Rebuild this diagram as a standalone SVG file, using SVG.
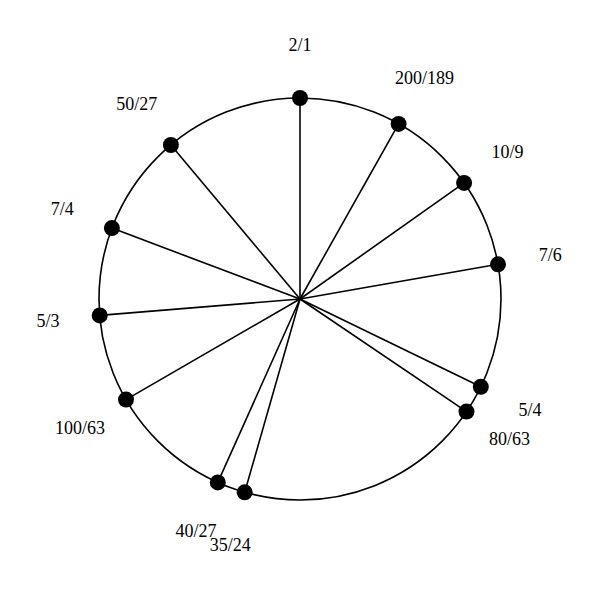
<svg xmlns="http://www.w3.org/2000/svg" width="600" height="600" viewBox="0 0 600 600">
<style>
.ring{fill:none;stroke:#000;stroke-width:1.6}
.spoke{stroke:#000;stroke-width:1.6}
.dot{fill:#000}
.lbl{font-family:"Liberation Serif","Times New Roman",serif;font-size:18px;text-anchor:middle;fill:#000}
</style>
<rect width="600" height="600" fill="#fff"/>
<circle class="ring" cx="300" cy="299" r="201"/>
<g id="connectors">
<line class="spoke" x1="300" y1="299" x2="300" y2="98"/>
<line class="spoke" x1="300" y1="299" x2="398.6" y2="123.9"/>
<line class="spoke" x1="300" y1="299" x2="464.1" y2="182.9"/>
<line class="spoke" x1="300" y1="299" x2="498.0" y2="264.3"/>
<line class="spoke" x1="300" y1="299" x2="480.8" y2="386.8"/>
<line class="spoke" x1="300" y1="299" x2="466.5" y2="411.6"/>
<line class="spoke" x1="300" y1="299" x2="244.7" y2="492.3"/>
<line class="spoke" x1="300" y1="299" x2="217.8" y2="482.4"/>
<line class="spoke" x1="300" y1="299" x2="126.0" y2="399.6"/>
<line class="spoke" x1="300" y1="299" x2="99.7" y2="315.4"/>
<line class="spoke" x1="300" y1="299" x2="111.9" y2="228.1"/>
<line class="spoke" x1="300" y1="299" x2="170.9" y2="145.0"/>
</g>
<g id="n-2-1"><circle class="dot" cx="300" cy="98" r="8"/><text class="lbl" x="300" y="51">2/1</text></g>
<g id="n-200-189"><circle class="dot" cx="398.6" cy="123.9" r="8"/><text class="lbl" x="424.6" y="83.5">200/189</text></g>
<g id="n-10-9"><circle class="dot" cx="464.1" cy="182.9" r="8"/><text class="lbl" x="507.4" y="158.3">10/9</text></g>
<g id="n-7-6"><circle class="dot" cx="498.0" cy="264.3" r="8"/><text class="lbl" x="550.2" y="261.2">7/6</text></g>
<g id="n-5-4"><circle class="dot" cx="480.8" cy="386.8" r="8"/><text class="lbl" x="530" y="415.9">5/4</text></g>
<g id="n-80-63"><circle class="dot" cx="466.5" cy="411.6" r="8"/><text class="lbl" x="509.4" y="445.3">80/63</text></g>
<g id="n-35-24"><circle class="dot" cx="244.7" cy="492.3" r="8"/><text class="lbl" x="230.2" y="551.2">35/24</text></g>
<g id="n-40-27"><circle class="dot" cx="217.8" cy="482.4" r="8"/><text class="lbl" x="196.1" y="536.8">40/27</text></g>
<g id="n-100-63"><circle class="dot" cx="126.0" cy="399.6" r="8"/><text class="lbl" x="80.1" y="434.1">100/63</text></g>
<g id="n-5-3"><circle class="dot" cx="99.7" cy="315.4" r="8"/><text class="lbl" x="47.9" y="326.8">5/3</text></g>
<g id="n-7-4"><circle class="dot" cx="111.9" cy="228.1" r="8"/><text class="lbl" x="62.3" y="215.4">7/4</text></g>
<g id="n-50-27"><circle class="dot" cx="170.9" cy="145.0" r="8"/><text class="lbl" x="136.8" y="110.3">50/27</text></g>
</svg>
